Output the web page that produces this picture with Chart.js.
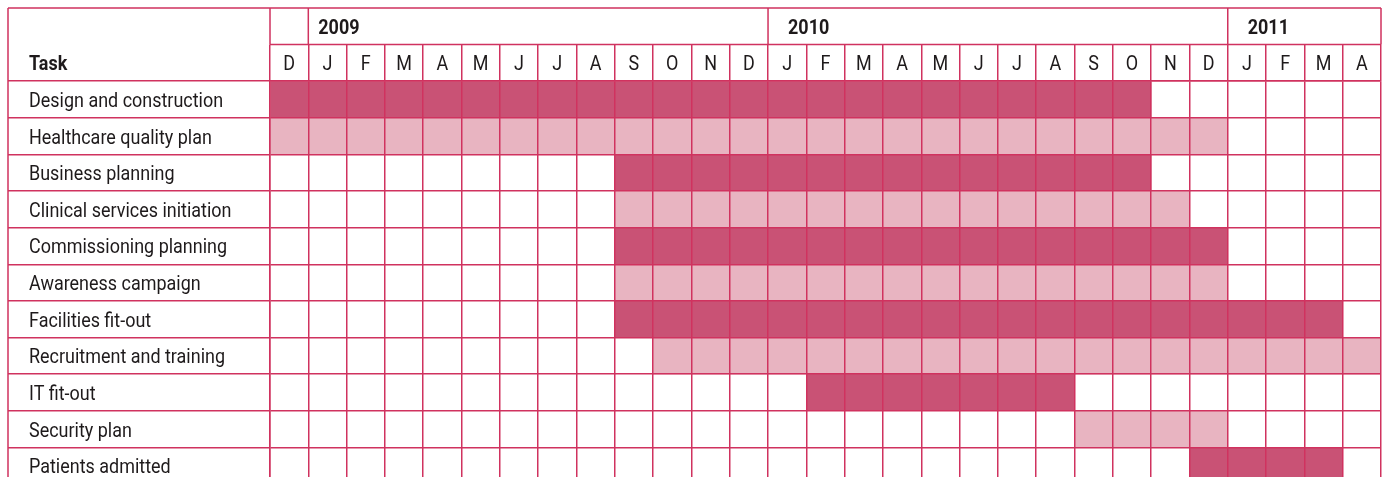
<!DOCTYPE html>
<html>
<head>
<meta charset="utf-8">
<script src="https://cdn.jsdelivr.net/npm/chart.js@4"></script>
<style>
  html, body { margin: 0; padding: 0; background: #fff; overflow: hidden; }
  canvas { display: block; }
</style>
</head>
<body>
<canvas id="ganttChart" width="1384" height="484"></canvas>
<script>
const tasks = [
    'Design and construction',
    'Healthcare quality plan',
    'Business planning',
    'Clinical services initiation',
    'Commissioning planning',
    'Awareness campaign',
    'Facilities fit-out',
    'Recruitment and training',
    'IT fit-out',
    'Security plan',
    'Patients admitted'
];
const months = ['D', 'J', 'F', 'M', 'A', 'M', 'J', 'J', 'A', 'S', 'O', 'N', 'D',
                'J', 'F', 'M', 'A', 'M', 'J', 'J', 'A', 'S', 'O', 'N', 'D',
                'J', 'F', 'M', 'A'];
const years = ['2009', '2010', '2011'];
const yearStarts = [1, 13, 25];
// month index where each task starts / ends (end is exclusive)
const startMonth = [0, 0, 9, 9, 9, 9, 9, 10, 14, 21, 24];
const endMonth = [23, 25, 23, 24, 25, 25, 28, 29, 21, 25, 28];
const shade = ['dark', 'light', 'dark', 'light', 'dark', 'light', 'dark', 'light', 'dark', 'light', 'dark'];

const colors = { dark: '#c95275', light: '#e8b4c1' };
const lineColor = '#d0325f';
const lineW = 1.5;
const textColor = '#1e1a1b';
const family = "Roboto, 'Liberation Sans', sans-serif";
const fontSize = 21;
const squeeze = 0.855;   // fake a condensed face
const rowH = 36.6;

function drawText(ctx, text, x, yMid, align) {
    ctx.save();
    ctx.translate(x, yMid + fontSize * 0.355);
    ctx.scale(squeeze, 1);
    ctx.textAlign = align;
    ctx.textBaseline = 'alphabetic';
    ctx.fillText(text, 0, 0);
    ctx.restore();
}

const headerPlugin = {
    id: 'header',
    afterDraw(chart) {
        const { ctx, chartArea, scales: { x, y } } = chart;
        const pad = chart.options.layout.padding;
        const top = pad.top;
        const mid = top + rowH;
        const frameLeft = chartArea.left - chart.options.scales.y.grid.tickLength;
        ctx.save();
        ctx.strokeStyle = lineColor;
        ctx.lineWidth = lineW;
        ctx.beginPath();
        ctx.moveTo(frameLeft, top);
        ctx.lineTo(chartArea.right, top);
        ctx.moveTo(frameLeft, top);
        ctx.lineTo(frameLeft, chartArea.bottom);
        ctx.moveTo(x.getPixelForValue(0), mid);
        ctx.lineTo(chartArea.right, mid);
        [0, ...yearStarts, months.length].forEach(v => {
            const px = x.getPixelForValue(v);
            ctx.moveTo(px, top);
            ctx.lineTo(px, mid);
        });
        ctx.stroke();

        ctx.fillStyle = textColor;
        ctx.font = `${fontSize}px ${family}`;
        const monthMid = (mid + chartArea.top) / 2;
        months.forEach((m, i) => drawText(ctx, m, x.getPixelForValue(i + 0.5), monthMid, 'center'));
        tasks.forEach((t, i) => drawText(ctx, t, pad.left, y.getPixelForValue(i), 'left'));

        ctx.font = `bold ${fontSize}px ${family}`;
        const yearPad = [10, 20, 20];
        years.forEach((yr, i) => drawText(ctx, yr, x.getPixelForValue(yearStarts[i]) + yearPad[i], (top + mid) / 2, 'left'));
        drawText(ctx, 'Task', pad.left, monthMid, 'left');
        ctx.restore();
    }
};

const ctx = document.getElementById('ganttChart').getContext('2d');
new Chart(ctx, {
    type: 'bar',
    data: {
        labels: tasks,
        datasets: [{
            data: tasks.map((t, i) => [startMonth[i], endMonth[i]]),
            backgroundColor: shade.map(s => colors[s]),
            borderWidth: 0,
            barPercentage: 1,
            categoryPercentage: 1
        }]
    },
    options: {
        indexAxis: 'y',
        responsive: false,
        animation: false,
        layout: { padding: { top: 8, left: 29, right: 3, bottom: 0 } },
        plugins: { legend: { display: false }, tooltip: { enabled: false } },
        scales: {
            x: {
                position: 'top',
                min: 0,
                max: months.length,
                ticks: { stepSize: 1, display: false },
                grid: { color: lineColor, lineWidth: lineW, drawTicks: true, tickLength: rowH, z: 1 },
                border: { color: lineColor, width: lineW, z: 1 },
                afterFit: scale => { scale.height = rowH * 2; }
            },
            y: {
                ticks: { display: false },
                grid: { color: lineColor, lineWidth: lineW, drawTicks: true, tickLength: 262, offset: true, z: 1 },
                border: { color: lineColor, width: lineW, z: 1 },
                afterFit: scale => { scale.width = 241; }
            }
        }
    },
    plugins: [headerPlugin]
});
</script>
</body>
</html>
